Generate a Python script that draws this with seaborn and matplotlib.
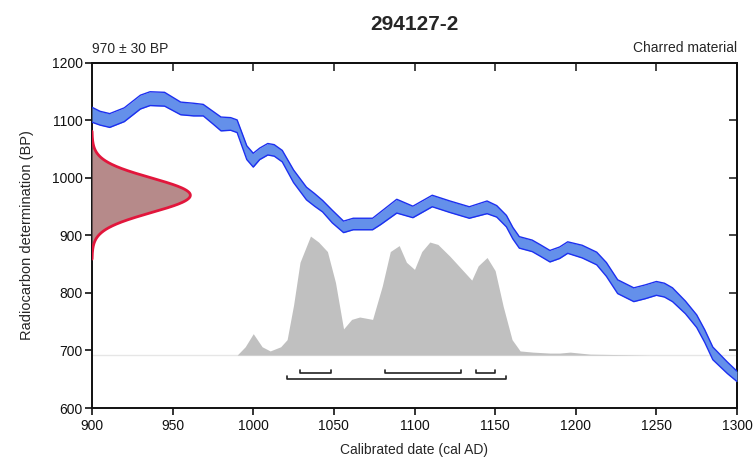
import numpy as np
import matplotlib
matplotlib.use("Agg")
import matplotlib.pyplot as plt
import seaborn as sns

# calibration curve (cal AD -> BP, half width of band)
cal_years = [900, 905, 911, 920, 930, 936, 945, 955, 963, 969, 975, 980, 986, 990,
             996, 1000, 1004, 1009, 1013, 1018, 1025, 1033, 1038, 1043, 1049, 1056,
             1062, 1074, 1079, 1089, 1099, 1111, 1122, 1134, 1145, 1151, 1157, 1161,
             1165, 1173, 1178, 1184, 1190, 1195, 1204, 1213, 1219, 1226, 1236, 1243,
             1250, 1255, 1260, 1268, 1275, 1280, 1285, 1294, 1300]
cal_bp = [1110, 1104, 1100, 1110, 1132, 1138, 1137, 1121, 1119, 1118, 1105, 1094, 1094, 1090,
          1044, 1031, 1042, 1050, 1048, 1038, 1003, 973, 962, 951, 933, 915,
          920, 920, 930, 951, 941, 960, 950, 940, 949, 942, 925, 904,
          888, 882, 874, 864, 870, 879, 872, 860, 841, 811, 797, 802,
          808, 805, 797, 775, 751, 725, 695, 670, 655]
cal_err = [13, 12, 12, 12, 12, 12, 12, 11, 11, 10, 11, 12, 11, 11,
           12, 12, 10, 10, 10, 10, 11, 11, 11, 10, 11, 10,
           10, 10, 11, 12, 10, 10, 10, 10, 11, 10, 10, 10,
           10, 10, 10, 10, 10, 10, 11, 11, 12, 12, 12, 12,
           12, 12, 12, 11, 11, 11, 11, 10, 9]

# calibrated probability (relative to peak)
prob_years = [990, 995, 1000, 1003, 1005.5, 1010.5, 1017, 1021, 1025, 1029, 1035.5,
              1040.5, 1046, 1051, 1056, 1061, 1066, 1074, 1080, 1085, 1090.5, 1095,
              1100, 1104.5, 1109.5, 1114.5, 1122, 1135.5, 1139.5, 1145, 1150, 1155,
              1160.5, 1165.5, 1173.5, 1184, 1190, 1196.5, 1209, 1228, 1246]
prob_rel = [0.0, 0.07, 0.18, 0.12, 0.07, 0.035, 0.07, 0.13, 0.42, 0.78, 1.0,
            0.95, 0.87, 0.61, 0.22, 0.30, 0.32, 0.30, 0.58, 0.87, 0.92, 0.78,
            0.72, 0.87, 0.95, 0.93, 0.83, 0.63, 0.75, 0.82, 0.71, 0.41,
            0.13, 0.035, 0.025, 0.017, 0.017, 0.025, 0.008, 0.004, 0.0]

# radiocarbon measurement
c14_mean = 970
c14_sd = 30

# calibrated ranges (68.3% and 95.4%)
ranges_68 = [(1029, 1048), (1082, 1129), (1138, 1150)]
ranges_95 = [(1021, 1157)]

sns.set_theme(style="ticks")
plt.rcParams['font.family'] = ['Liberation Sans', 'DejaVu Sans']

fig = plt.figure(figsize=(7.54, 4.61), dpi=100)
ax = fig.add_axes([92 / 754, 53 / 461, 645 / 754, 345 / 461])

# posterior distribution (grey)
base = 692
scale = 207
py = np.array(prob_years)
pv = base + np.array(prob_rel) * scale
ax.axhline(base, color='#e6e6e6', lw=1, zorder=1)
ax.fill_between(py, base, pv, color='#c0c0c0', lw=0, zorder=2)

# calibration curve band
cy = np.array(cal_years)
cb = np.array(cal_bp)
ce = np.array(cal_err)
ax.fill_between(cy, cb - ce, cb + ce, color='#6490ea', lw=0, zorder=3)
sns.lineplot(x=cy, y=cb + ce, ax=ax, color='#1c2ff0', lw=1, zorder=4,
             solid_joinstyle='round')
sns.lineplot(x=cy, y=cb - ce, ax=ax, color='#1c2ff0', lw=1, zorder=4,
             solid_joinstyle='round')

# radiocarbon date distribution (red)
gy = np.linspace(c14_mean - 3.7 * c14_sd, c14_mean + 3.7 * c14_sd, 300)
gx = 900 + 61 * np.exp(-0.5 * ((gy - c14_mean) / c14_sd) ** 2)
ax.fill_betweenx(gy, 900, gx, color='#b68a8a', lw=0, zorder=3)
sns.lineplot(x=gx, y=gy, ax=ax, color='#e2163c', lw=2, sort=False,
             estimator=None, orient='y', zorder=4)

# range brackets
for lo, hi in ranges_68:
    ax.plot([lo, lo, hi, hi], [666, 661, 661, 666], color='#222222', lw=1.2, zorder=5)
for lo, hi in ranges_95:
    ax.plot([lo, lo, hi, hi], [655, 650, 650, 655], color='#222222', lw=1.2, zorder=5)

ax.set_xlim(900, 1300)
ax.set_ylim(600, 1200)
ax.set_xticks(range(900, 1301, 50))
ax.set_yticks(range(600, 1201, 100))
for s in ax.spines.values():
    s.set_visible(True)
    s.set_linewidth(1.4)
    s.set_color('#111111')
ax.tick_params(axis='both', direction='out', length=5, width=1.2,
               labelsize=10, colors='#111111', pad=1.5)
ax.tick_params(axis='x', pad=3)

top = ax.secondary_xaxis('top')
top.set_xticks(range(950, 1300, 50))
top.tick_params(direction='in', length=6, width=1.2, labeltop=False)
top.spines['top'].set_linewidth(1.4)
right = ax.secondary_yaxis('right')
right.set_yticks(range(700, 1200, 100))
right.tick_params(direction='in', length=6, width=1.2, labelright=False)
right.spines['right'].set_linewidth(1.4)

ax.set_xlabel('Calibrated date (cal AD)', fontsize=10, labelpad=7)
ax.set_ylabel('Radiocarbon determination (BP)', fontsize=10.5, labelpad=13)

ax.text(0, 1.029, '970 \u00b1 30 BP', transform=ax.transAxes, fontsize=10,
        ha='left', va='baseline')
ax.text(1, 1.032, 'Charred material', transform=ax.transAxes, fontsize=10,
        ha='right', va='baseline')
fig.text(414 / 754, 1 - 24 / 461, '294127-2', fontsize=15, fontweight='bold',
         ha='center', va='center')

fig.savefig('out.png', dpi=100)
